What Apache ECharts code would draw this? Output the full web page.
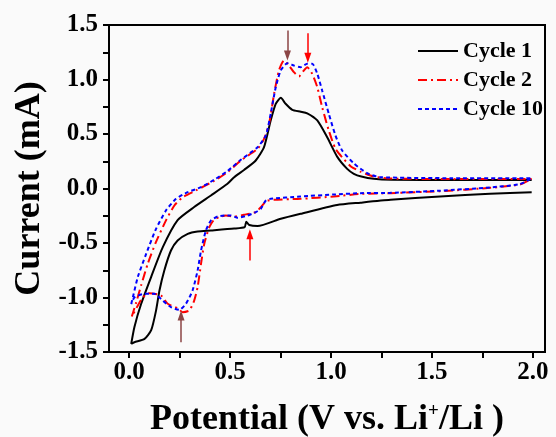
<!DOCTYPE html>
<html>
<head>
<meta charset="utf-8">
<title>CV curves</title>
<script src="https://cdn.jsdelivr.net/npm/echarts@6/dist/echarts.min.js"></script>
<style>
  html, body { margin: 0; padding: 0; background: #fafafa; }
  #chart { width: 556px; height: 437px; }
</style>
</head>
<body>
<div id="chart"></div>
<script>
// [potential (V), current (mA)]
const cycle1Anodic = [
  [0.01, -1.425], [0.026, -1.27], [0.059, -1.06], [0.109, -0.81], [0.166, -0.54],
  [0.24, -0.29], [0.322, -0.17], [0.405, -0.064], [0.487, 0.043], [0.52, 0.104],
  [0.569, 0.17], [0.627, 0.257], [0.668, 0.379], [0.701, 0.624], [0.726, 0.777],
  [0.751, 0.832], [0.775, 0.777], [0.808, 0.722], [0.85, 0.705], [0.882, 0.69],
  [0.932, 0.624], [0.981, 0.47], [1.031, 0.29], [1.08, 0.18], [1.113, 0.135],
  [1.15, 0.11], [1.211, 0.089], [1.3, 0.08], [1.6, 0.078], [1.994, 0.078]
];
const cycle1Cathodic = [
  [1.994, -0.034], [1.788, -0.049], [1.54, -0.073], [1.294, -0.104], [1.146, -0.13],
  [1.03, -0.152], [0.849, -0.232], [0.751, -0.278], [0.636, -0.345], [0.595, -0.335],
  [0.58, -0.305], [0.572, -0.355], [0.52, -0.368], [0.405, -0.385], [0.339, -0.394],
  [0.29, -0.416], [0.24, -0.477], [0.207, -0.569], [0.174, -0.752], [0.15, -0.936],
  [0.133, -1.12], [0.109, -1.3], [0.076, -1.38], [0.026, -1.41], [0.01, -1.425]
];
const cycle2Loop = [
  [0.013, -1.175], [0.035, -1.043], [0.059, -0.89], [0.092, -0.69], [0.133, -0.49],
  [0.183, -0.29], [0.224, -0.156], [0.265, -0.08], [0.331, -0.018], [0.421, 0.07],
  [0.487, 0.15], [0.553, 0.257], [0.636, 0.364], [0.668, 0.456], [0.693, 0.594],
  [0.718, 0.869], [0.742, 1.083], [0.767, 1.174], [0.792, 1.128], [0.816, 1.067],
  [0.841, 1.028], [0.862, 1.076], [0.882, 1.113], [0.907, 1.052], [0.932, 0.929],
  [0.956, 0.746], [0.989, 0.532], [1.022, 0.364], [1.063, 0.27], [1.1, 0.2],
  [1.146, 0.155], [1.211, 0.11], [1.294, 0.092], [1.6, 0.086], [1.994, 0.088],
  [1.936, 0.037], [1.788, 0.006], [1.54, -0.025], [1.294, -0.043], [1.146, -0.05],
  [1.014, -0.073], [0.849, -0.095], [0.685, -0.11], [0.652, -0.171], [0.627, -0.217],
  [0.569, -0.241], [0.52, -0.257], [0.479, -0.248], [0.446, -0.263], [0.421, -0.285],
  [0.397, -0.355], [0.372, -0.507], [0.356, -0.69], [0.339, -0.905], [0.322, -1.028],
  [0.298, -1.119], [0.265, -1.135], [0.24, -1.098], [0.191, -1.058], [0.158, -0.982],
  [0.1, -0.96], [0.068, -0.997], [0.043, -1.073], [0.013, -1.175]
];
const cycle10Loop = [
  [0.01, -1.06], [0.018, -1.0], [0.043, -0.81], [0.084, -0.6], [0.133, -0.37],
  [0.183, -0.2], [0.232, -0.095], [0.29, -0.034], [0.356, 0.012], [0.421, 0.08],
  [0.487, 0.16], [0.553, 0.263], [0.636, 0.379], [0.677, 0.486], [0.701, 0.685],
  [0.726, 0.929], [0.751, 1.083], [0.784, 1.15], [0.816, 1.128], [0.849, 1.113],
  [0.882, 1.144], [0.907, 1.144], [0.932, 1.052], [0.956, 0.899], [0.989, 0.685],
  [1.022, 0.486], [1.055, 0.349], [1.113, 0.23], [1.179, 0.14], [1.244, 0.104],
  [1.6, 0.095], [1.994, 0.095],
  [1.936, 0.04], [1.788, 0.01], [1.54, -0.02], [1.294, -0.04], [1.146, -0.043],
  [1.014, -0.055], [0.849, -0.073], [0.701, -0.095], [0.677, -0.11], [0.652, -0.186],
  [0.627, -0.217], [0.586, -0.248], [0.537, -0.269], [0.504, -0.248], [0.471, -0.248],
  [0.438, -0.257], [0.405, -0.294], [0.38, -0.385], [0.356, -0.569], [0.339, -0.752],
  [0.314, -0.936], [0.281, -1.058], [0.248, -1.113], [0.207, -1.089], [0.166, -1.028],
  [0.125, -0.966], [0.076, -0.966], [0.026, -1.0], [0.01, -1.06]
];
// peak markers: [x, yFrom, yTo, colour]
const arrowMarks = [
  [0.784, 1.45, 1.22, '#8b4545'],
  [0.885, 1.425, 1.2, '#ff0000'],
  [0.598, -0.66, -0.42, '#ff0000'],
  [0.257, -1.41, -1.165, '#8b4545']
];
const xLabelValues = [0, 0.5, 1.0, 1.5, 2.0];
const xTickValues = [0, 0.25, 0.5, 0.75, 1.0, 1.25, 1.5, 1.75, 2.0];
const yTickValues = [-1.5, -1.25, -1.0, -0.75, -0.5, -0.25, 0, 0.25, 0.5, 0.75, 1.0, 1.25, 1.5];

const serif = "'Liberation Serif', 'Times New Roman', serif";
const chart = echarts.init(document.getElementById('chart'));

const lineSeries = (name, data, color, type, width) => ({
  name: name,
  type: 'line',
  data: data,
  symbol: 'none',
  smooth: 0.2,
  color: color,
  lineStyle: { color: color, width: width, type: type },
  animation: false
});

chart.setOption({
  backgroundColor: '#fafafa',
  grid: {
    left: 109,
    right: 11,
    top: 25,
    bottom: 85,
    outerBoundsMode: 'none',
    show: true,
    borderColor: '#000',
    borderWidth: 2
  },
  legend: {
    data: ['Cycle 1', 'Cycle 2', 'Cycle 10'],
    orient: 'vertical',
    left: 417,
    top: 40,
    padding: 0,
    itemWidth: 40,
    itemHeight: 14,
    itemGap: 7,
    itemStyle: { opacity: 0 },
    textStyle: { fontFamily: serif, fontWeight: 'bold', fontSize: 22, color: '#000' }
  },
  xAxis: {
    type: 'value',
    min: -0.1,
    max: 2.06,
    name: 'Potential (V vs. Li{sup|+}/Li )',
    nameLocation: 'middle',
    nameGap: 50,
    nameTextStyle: {
      fontFamily: serif, fontWeight: 'bold', fontSize: 36, color: '#000',
      rich: { sup: { fontFamily: serif, fontWeight: 'bold', fontSize: 19, lineHeight: 12, verticalAlign: 'top' } }
    },
    splitLine: { show: false },
    axisLine: { onZero: false, lineStyle: { color: '#000', width: 2 } },
    axisTick: { customValues: xTickValues, length: 6, lineStyle: { color: '#000', width: 2 } },
    axisLabel: {
      customValues: xLabelValues,
      margin: 8,
      fontFamily: serif, fontWeight: 'bold', fontSize: 25, color: '#000',
      formatter: v => v.toFixed(1)
    }
  },
  yAxis: {
    type: 'value',
    min: -1.5,
    max: 1.5,
    interval: 0.5,
    name: 'Current (mA)',
    nameLocation: 'middle',
    nameGap: 60,
    nameTextStyle: { fontFamily: serif, fontWeight: 'bold', fontSize: 36, color: '#000' },
    splitLine: { show: false },
    axisLine: { onZero: false, lineStyle: { color: '#000', width: 2 } },
    axisTick: { customValues: yTickValues, length: 6, lineStyle: { color: '#000', width: 2 } },
    axisLabel: {
      margin: 11,
      fontFamily: serif, fontWeight: 'bold', fontSize: 25, color: '#000',
      formatter: v => v.toFixed(1)
    }
  },
  series: [
    lineSeries('Cycle 1', cycle1Anodic, '#000000', 'solid', 2),
    lineSeries('Cycle 1', cycle1Cathodic, '#000000', 'solid', 2),
    lineSeries('Cycle 2', cycle2Loop, '#ff0000', [9, 4, 2, 4], 2),
    lineSeries('Cycle 10', cycle10Loop, '#0000ff', [4, 3], 2),
    {
      name: 'arrows',
      type: 'line',
      data: [],
      animation: false,
      markLine: {
        silent: true,
        symbol: ['none', 'triangle'],
        symbolSize: [7, 10],
        label: { show: false },
        data: arrowMarks.map(a => [
          { coord: [a[0], a[1]], lineStyle: { color: a[3], width: 1.5, type: 'solid' }, itemStyle: { color: a[3] } },
          { coord: [a[0], a[2]] }
        ])
      }
    }
  ]
});
</script>
</body>
</html>
